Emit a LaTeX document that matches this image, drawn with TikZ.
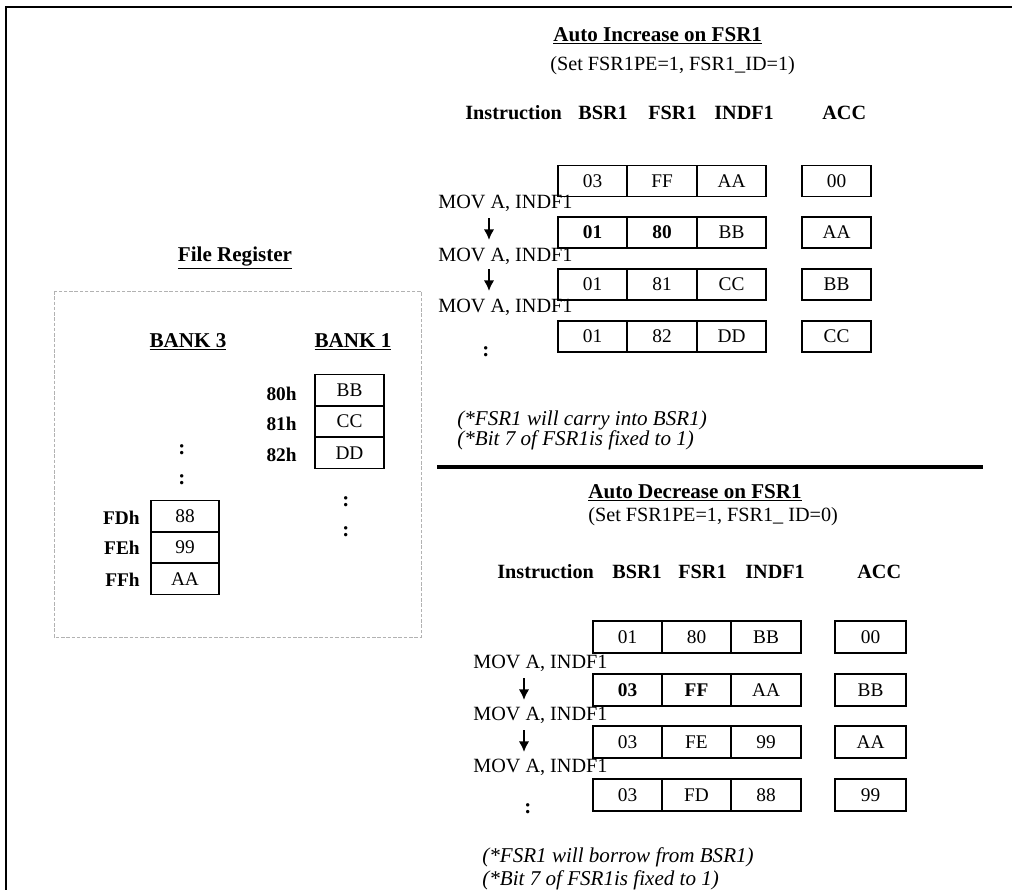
\documentclass[tikz,border=0pt]{standalone}
\usepackage{fontspec}
\setmainfont{Liberation Serif}
\usetikzlibrary{arrows.meta,positioning}

\begin{document}
\begin{tikzpicture}[
    x=0.02cm, y=-0.02cm,
    cell/.style={draw, line width=0.6pt, minimum width=1.38cm, minimum height=0.62cm, inner sep=0pt, font=\fontsize{11}{13}\selectfont},
    title/.style={font=\bfseries\fontsize{12}{14}\selectfont, anchor=west, inner sep=0pt},
    subtitle/.style={font=\fontsize{11.5}{14}\selectfont, anchor=west, inner sep=0pt},
    header/.style={font=\bfseries\fontsize{11.5}{14}\selectfont, anchor=west, inner sep=0pt},
    instr/.style={font=\fontsize{11.5}{14}\selectfont, anchor=west, inner sep=0pt},
    note/.style={font=\itshape\fontsize{12}{14}\selectfont, anchor=west, inner sep=0pt},
    addr/.style={font=\bfseries\fontsize{11}{13}\selectfont, anchor=east, inner sep=0pt},
    dots/.style={font=\bfseries\fontsize{12}{14}\selectfont, inner sep=0pt},
    flow/.style={-{Latex[length=6pt,width=6pt]}, line width=1.2pt},
]
    % page and frame
    \useasboundingbox[fill=white] (0,0) rectangle (1012,890);
    \draw[line width=1.2pt] (6,890) -- (6,7) -- (1012,7);

    % File register
    \node[title, anchor=center] (freg) at (235,258) {\underline{File Register}};
    \draw[gray!60, dashed, dash pattern=on 2pt off 1pt, line width=0.5pt] (54,291) rectangle (421,637);
    \node[title, anchor=center] (bank3) at (188,342) {\underline{BANK 3}};
    \node[title, anchor=center] (bank1) at (353,342) {\underline{BANK 1}};

    % Bank 1 cells
    \node[cell, minimum width=1.38cm] (b1c1) at (349.5,390) {BB};
    \node[cell, minimum width=1.38cm] (b1c2) at (349.5,421.5) {CC};
    \node[cell, minimum width=1.38cm] (b1c3) at (349.5,453) {DD};
    \node[addr] (b1a1) at (297,394) {80h};
    \node[addr] (b1a2) at (297,424) {81h};
    \node[addr] (b1a3) at (297,455) {82h};
    \node[dots] (b1d1) at (346,502) {:};
    \node[dots] (b1d2) at (346,532) {:};

    % Bank 3 cells
    \node[dots] (b3d1) at (182,450) {:};
    \node[dots] (b3d2) at (182,480) {:};
    \node[cell, minimum width=1.36cm] (b3c1) at (185,516) {88};
    \node[cell, minimum width=1.36cm] (b3c2) at (185,547.5) {99};
    \node[cell, minimum width=1.36cm] (b3c3) at (185,579) {AA};
    \node[addr] (b3a1) at (140,518) {FDh};
    \node[addr] (b3a2) at (140,548) {FEh};
    \node[addr] (b3a3) at (140,580) {FFh};

    % Auto increase
    \node[title] (inctitle) at (553,36) {\underline{Auto Increase on FSR1}};
    \node[subtitle] (incset) at (550,66) {(Set FSR1PE=1, FSR1\_ID=1)};
    \node[header] (inch1) at (465,113) {Instruction};
    \node[header] (inch2) at (578,113) {BSR1};
    \node[header] (inch3) at (648,113) {FSR1};
    \node[header] (inch4) at (714,113) {INDF1};
    \node[header] (inch5) at (822,113) {ACC};
    \foreach \r/\y/\b/\f/\d/\a in {1/181/03/FF/AA/00, 2/232.5/{\textbf{01}}/{\textbf{80}}/BB/AA, 3/284.5/01/81/CC/BB, 4/336.5/01/82/DD/CC} {
        \node[cell] (inc\r b) at (592.5,\y) {\b};
        \node[cell] (inc\r f) at (662,\y) {\f};
        \node[cell] (inc\r d) at (731.5,\y) {\d};
        \node[cell] (inc\r a) at (836.5,\y) {\a};
    }
    \foreach \m/\y in {1/203, 2/256, 3/307}
        \node[instr] (incmov\m) at (438,\y) {MOV A, INDF1};
    \coordinate (inca1s) at (489,218);
    \coordinate (inca1e) at (489,240);
    \coordinate (inca2s) at (489,269);
    \coordinate (inca2e) at (489,291);
    \draw[flow] (inca1s) -- (inca1e);
    \draw[flow] (inca2s) -- (inca2e);
    \node[dots] (incdots) at (486,352) {:};
    \node[note] (incn1) at (457,420) {(*FSR1 will carry into BSR1)};
    \node[note] (incn2) at (457,440) {(*Bit 7 of FSR1is fixed to 1)};

    % separator
    \coordinate (sepl) at (437,467);
    \coordinate (sepr) at (983,467);
    \draw[line width=2.4pt] (sepl) -- (sepr);

    % Auto decrease
    \node[title] (dectitle) at (588,493) {\underline{Auto Decrease on FSR1}};
    \node[subtitle] (decset) at (588,517) {(Set FSR1PE=1, FSR1\_ ID=0)};
    \node[header] (dech1) at (497,572) {Instruction};
    \node[header] (dech2) at (612,572) {BSR1};
    \node[header] (dech3) at (678,572) {FSR1};
    \node[header] (dech4) at (745,572) {INDF1};
    \node[header] (dech5) at (857,572) {ACC};
    \foreach \r/\y/\b/\f/\d/\a in {1/637/01/80/BB/00, 2/690/{\textbf{03}}/{\textbf{FF}}/AA/BB, 3/742/03/FE/99/AA, 4/795/03/FD/88/99} {
        \node[cell, minimum height=0.64cm] (dec\r b) at (627.5,\y) {\b};
        \node[cell, minimum height=0.64cm] (dec\r f) at (696.5,\y) {\f};
        \node[cell, minimum height=0.64cm, minimum width=1.4cm] (dec\r d) at (766,\y) {\d};
        \node[cell, minimum height=0.64cm, minimum width=1.42cm] (dec\r a) at (870.5,\y) {\a};
    }
    \foreach \m/\y in {1/663, 2/715, 3/767}
        \node[instr] (decmov\m) at (473,\y) {MOV A, INDF1};
    \coordinate (deca1s) at (524,678);
    \coordinate (deca1e) at (524,700);
    \coordinate (deca2s) at (524,730);
    \coordinate (deca2e) at (524,752);
    \draw[flow] (deca1s) -- (deca1e);
    \draw[flow] (deca2s) -- (deca2e);
    \node[dots] (decdots) at (528,809) {:};
    \node[note] (decn1) at (482,857) {(*FSR1 will borrow from BSR1)};
    \node[note] (decn2) at (482,880) {(*Bit 7 of FSR1is fixed to 1)};
\end{tikzpicture}
\end{document}
